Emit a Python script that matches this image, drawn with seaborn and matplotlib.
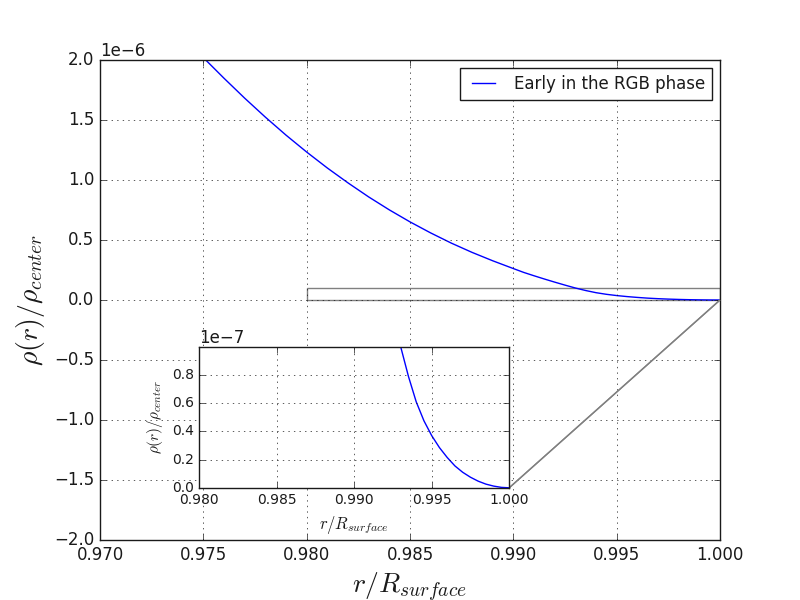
import matplotlib
matplotlib.use('Agg')
import matplotlib.pyplot as plt
import seaborn as sns
import numpy as np
from mpl_toolkits.axes_grid1.inset_locator import mark_inset

# radius as fraction of the surface radius
r_frac = [0.974, 0.975, 0.976, 0.977, 0.978, 0.979, 0.980, 0.981, 0.982,
          0.983, 0.984, 0.985, 0.986, 0.987, 0.988, 0.989, 0.990, 0.9905,
          0.991, 0.9915, 0.992, 0.9925, 0.993, 0.9935, 0.994, 0.9945,
          0.995, 0.9955, 0.996, 0.9965, 0.997, 0.9975, 0.998, 0.9985,
          0.999, 0.9995, 1.000]
# density / central density, in units of 1e-7
rho_e7 = [22.07, 20.2, 18.48, 16.82, 15.24, 13.74, 12.33, 11.00, 9.76,
          8.59, 7.51, 6.51, 5.59, 4.74, 3.97, 3.27, 2.62, 2.30,
          2.02, 1.75, 1.49, 1.24, 1.00, 0.79, 0.61, 0.475,
          0.37, 0.285, 0.215, 0.155, 0.11, 0.075, 0.047, 0.026,
          0.012, 0.003, 0.0]

r = np.array(r_frac)
rho = np.array(rho_e7) * 1e-7

label = 'Early in the RGB phase'
main_xticks = [0.970, 0.975, 0.980, 0.985, 0.990, 0.995, 1.000]
inset_xticks = [0.980, 0.985, 0.990, 0.995, 1.000]
inset_yticks = [0.0, 0.2e-7, 0.4e-7, 0.6e-7, 0.8e-7]

sns.set_theme(style='white')
plt.style.use('classic')
plt.rcParams['font.family'] = ['DejaVu Sans']
plt.rcParams['mathtext.fontset'] = 'cm'

fig = plt.figure(figsize=(8, 6), dpi=100, facecolor='white')
ax = fig.add_subplot(111)
sns.lineplot(x=r, y=rho, ax=ax, color='#0000ff', linewidth=1, label=label)
ax.set_xlim(0.97, 1.0)
ax.set_ylim(-2e-6, 2e-6)
ax.set_xticks(main_xticks)
ax.ticklabel_format(axis='y', style='sci', scilimits=(-6, -6))
ax.grid(True)
ax.set_xlabel(r'$r/R_{surface}$', fontsize=20)
ax.set_ylabel(r'$\rho(r)/\rho_{center}$', fontsize=20)
ax.legend(loc='upper right', fontsize=12)

# zoomed inset near the surface
axins = fig.add_axes([0.249, 0.187, 0.3875, 0.235])
sns.lineplot(x=r, y=rho, ax=axins, color='#0000ff', linewidth=1, legend=False)
axins.set_xlim(0.98, 1.0)
axins.set_ylim(0, 1e-7)
axins.set_xticks(inset_xticks)
axins.set_yticks(inset_yticks)
axins.ticklabel_format(axis='y', style='sci', scilimits=(-7, -7))
axins.tick_params(labelsize=10)
axins.yaxis.get_offset_text().set_fontsize(12)
axins.grid(True)
axins.set_xlabel(r'$r/R_{surface}$', fontsize=12)
axins.set_ylabel(r'$\rho(r)/\rho_{center}$', fontsize=11)

mark_inset(ax, axins, loc1=4, loc2=4, fc='none', ec='0.5')

fig.savefig('out.png', dpi=100, facecolor='white')
